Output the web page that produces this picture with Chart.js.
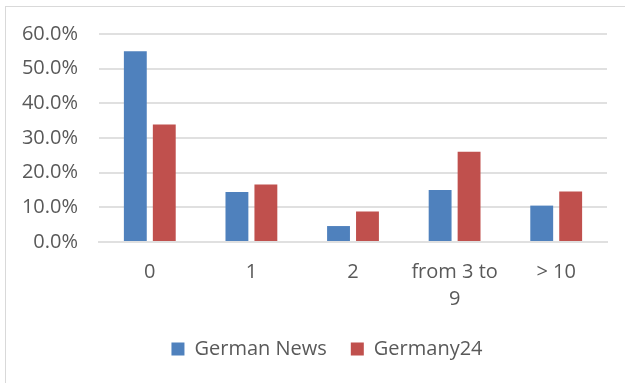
<!DOCTYPE html>
<html>
<head>
<meta charset="utf-8">
<script src="https://cdn.jsdelivr.net/npm/chart.js@4"></script>
<style>
  html, body { margin: 0; padding: 0; background: #fff; overflow: hidden; }
  #frame { position: absolute; left: 5px; top: 6px; width: 700px; height: 500px; border: 1px solid #d9d9d9; }
  #wrap { position: absolute; left: 0; top: 0; width: 625px; height: 383px; }
</style>
</head>
<body>
<div id="frame"></div>
<div id="wrap"><canvas id="chart" width="625" height="383"></canvas></div>
<script>
const categories = ['0', '1', '2', ['from 3 to', '9'], '> 10'];
const germanNews = [55.0, 14.4, 4.6, 15.0, 10.5];
const germany24 = [33.9, 16.6, 8.8, 26.0, 14.6];
const yTicks = [0, 10, 20, 30, 40, 50, 60];

const font = { family: 'Open Sans', size: 20 };
const grey = '#595959';
const gridColor = '#e0e0e0';

// move the legend so its centre sits at a fixed x
const legendShift = {
  id: 'legendShift',
  afterLayout(chart, args, opts) {
    const lg = chart.legend;
    const dx = opts.center - (lg.left + lg.right) / 2;
    lg.left += dx;
    lg.right += dx;
  }
};

new Chart(document.getElementById('chart'), {
  type: 'bar',
  data: {
    labels: categories,
    datasets: [
      { label: 'German News', data: germanNews, backgroundColor: '#4f81bd' },
      { label: 'Germany24', data: germany24, backgroundColor: '#c0504d' }
    ]
  },
  plugins: [legendShift],
  options: {
    responsive: false,
    animation: false,
    categoryPercentage: 0.57,
    barPercentage: 0.79,
    layout: { padding: { left: 0, right: 18, top: 34, bottom: 14 } },
    plugins: {
      tooltip: { enabled: false },
      legendShift: { center: 327 },
      legend: {
        position: 'bottom',
        labels: { font, color: grey, boxWidth: 13, boxHeight: 13, padding: 24 }
      }
    },
    scales: {
      x: {
        grid: { display: false },
        border: { color: gridColor, width: 2 },
        ticks: { font: { ...font, lineHeight: 1.35 }, color: grey, padding: 9, maxRotation: 0, autoSkip: false },
        afterFit: (scale) => { scale.height = 73; }
      },
      y: {
        min: 0,
        max: 60,
        afterBuildTicks: (scale) => { scale.ticks = yTicks.map(v => ({ value: v })); },
        grid: { color: gridColor, lineWidth: 2, drawTicks: false },
        border: { display: false },
        ticks: {
          font, color: grey, padding: 21,
          callback: (v) => v.toFixed(1) + '%'
        },
        afterFit: (scale) => { scale.width = 99; }
      }
    }
  }
});
</script>
</body>
</html>
